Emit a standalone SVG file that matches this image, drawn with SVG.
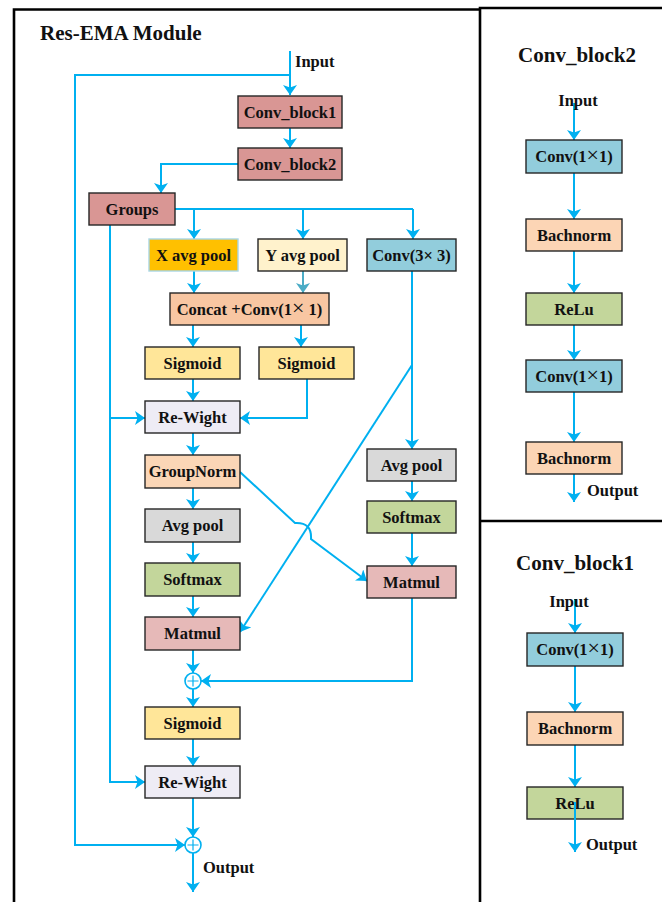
<svg xmlns="http://www.w3.org/2000/svg" width="662" height="902" viewBox="0 0 662 902">
<style>
text{font-family:"Liberation Serif","Times New Roman",serif;font-weight:bold;fill:#111;}
.lbl{font-size:16.5px;text-anchor:middle;}
.ttl{font-size:21px;}
.box{stroke:#262626;stroke-width:1.4;}
.frame{stroke:#000;stroke-width:2.6;fill:none;}
.c{fill:none;stroke:#00b0f0;stroke-width:2;}
.ca{fill:none;stroke:#00b0f0;stroke-width:2;marker-end:url(#ah);}
.sum{fill:#fff;stroke:#00b0f0;stroke-width:1.6;}
.plus{stroke:#00b0f0;stroke-width:1.2;}
.big{font-size:22px;font-weight:normal;}
</style>
<defs>
<marker id="ah" markerUnits="userSpaceOnUse" viewBox="0 -7 10 14" refX="10" refY="0" markerWidth="10" markerHeight="14" orient="auto">
<path d="M0,-7 L10,0 L0,7 L2.5,0 z" fill="#00b0f0"/>
</marker>
<marker id="ah2" markerUnits="userSpaceOnUse" viewBox="0 -7 10 14" refX="10" refY="0" markerWidth="10" markerHeight="14" orient="auto">
<path d="M0,-7 L10,0 L0,7 L2.5,0 z" fill="#4bacc6"/>
</marker>
</defs>
<rect width="662" height="902" fill="#fff"/>
<g id="frames">
<path class="frame" d="M14,902 L14,9.5 L480,9.5"/>
<path class="frame" d="M480,902 L480,8 L662,8"/>
<path class="frame" d="M480,521 L662,521"/>
</g>
<text class="ttl" x="40" y="40">Res-EMA Module</text>
<text class="ttl" x="577" y="62" text-anchor="middle">Conv_block2</text>
<text class="ttl" x="575" y="570" text-anchor="middle">Conv_block1</text>

<g id="connectors">
<path class="ca" d="M290,51 L290,95"/>
<path class="ca" d="M290,75 L75,75 L75,845 L185,845"/>
<path class="ca" d="M290,128 L290,148"/>
<path class="ca" d="M238,164 L161,164 L161,193"/>
<path class="c" d="M175,209 L413,209"/>
<path class="ca" d="M194,209 L194,239"/>
<path class="ca" d="M303,209 L303,239"/>
<path class="ca" d="M413,209 L413,239"/>
<path class="ca" d="M194,271 L194,293"/>
<path d="M303,271 L303,293" fill="none" stroke="#4bacc6" stroke-width="2" marker-end="url(#ah2)"/>
<path class="ca" d="M193,325 L193,347"/>
<path class="ca" d="M301,325 L301,347"/>
<path class="ca" d="M193,379 L193,401"/>
<path class="ca" d="M307,379 L307,418 L240,418"/>
<path class="ca" d="M110,225 L110,782 L145,782"/>
<path class="ca" d="M110,418 L145,418"/>
<path class="ca" d="M193,433 L193,455"/>
<path class="ca" d="M193,488 L193,509"/>
<path class="ca" d="M193,542 L193,563"/>
<path class="ca" d="M193,596 L193,617"/>
<path class="ca" d="M193,650 L193,673"/>
<path class="ca" d="M412,271 L412,449"/>
<path class="ca" d="M412,365 L240,632"/>
<path class="ca" d="M240,472 L295,523 Q312,522 311,539 L367,581"/>
<path class="ca" d="M412,481 L412,501"/>
<path class="ca" d="M412,533 L412,566"/>
<path class="ca" d="M412,598 L412,681 L201,681"/>
<path class="ca" d="M193,689 L193,707"/>
<path class="ca" d="M193,739 L193,766"/>
<path class="ca" d="M193,798 L193,837"/>
<path class="ca" d="M193,853 L193,892"/>
<path class="ca" d="M574,103 L574,140"/>
<path class="ca" d="M574,173 L574,219"/>
<path class="ca" d="M574,251 L574,293"/>
<path class="ca" d="M574,325 L574,360"/>
<path class="ca" d="M574,392 L574,442"/>
<path class="ca" d="M574,474 L574,502"/>
<path class="ca" d="M575,599 L575,633"/>
<path class="ca" d="M575,666 L575,712"/>
<path class="ca" d="M575,745 L575,787"/>
</g>

<text class="lbl" x="295" y="67" style="text-anchor:start">Input</text>
<text class="lbl" x="203" y="873" style="text-anchor:start">Output</text>
<text class="lbl" x="578" y="106">Input</text>
<text class="lbl" x="587" y="496" style="text-anchor:start">Output</text>
<text class="lbl" x="569" y="607">Input</text>
<text class="lbl" x="586" y="850" style="text-anchor:start">Output</text>

<g id="conv_block1"><rect class="box" x="238" y="96" width="104" height="32" fill="#d99694"/><text class="lbl" x="290" y="117.5">Conv_block1</text></g>
<g id="conv_block2"><rect class="box" x="238" y="148" width="104" height="32" fill="#d99694"/><text class="lbl" x="290" y="169.5">Conv_block2</text></g>
<g id="groups"><rect class="box" x="89" y="193" width="86" height="32" fill="#d99694"/><text class="lbl" x="132" y="214.5">Groups</text></g>
<g id="xavg"><rect x="149" y="239" width="89" height="32" fill="#ffc000" stroke="#a9d6e5" stroke-width="1.4"/><text class="lbl" x="193.5" y="260.5">X avg pool</text></g>
<g id="yavg"><rect class="box" x="258" y="239" width="89" height="32" fill="#fff2cc"/><text class="lbl" x="302.5" y="260.5">Y avg pool</text></g>
<g id="conv33"><rect class="box" x="367" y="239" width="89" height="32" fill="#92cddc"/><text class="lbl" x="411.5" y="260.5">Conv(3× 3)</text></g>
<g id="concat"><rect class="box" x="170" y="293" width="159" height="32" fill="#f8c6a2"/><text class="lbl" x="249.5" y="314.5">Concat +Conv(1<tspan class="big">×</tspan> 1)</text></g>
<g id="sigmoid1"><rect class="box" x="145" y="347" width="95" height="32" fill="#ffe699"/><text class="lbl" x="192.5" y="368.5">Sigmoid</text></g>
<g id="sigmoid2"><rect class="box" x="259" y="347" width="95" height="32" fill="#ffe699"/><text class="lbl" x="306.5" y="368.5">Sigmoid</text></g>
<g id="reweight1"><rect class="box" x="145" y="401" width="95" height="32" fill="#eeecf5"/><text class="lbl" x="192.5" y="422.5">Re-Wight</text></g>
<g id="groupnorm"><rect class="box" x="145" y="455" width="95" height="33" fill="#fbd6b6"/><text class="lbl" x="192.5" y="477">GroupNorm</text></g>
<g id="avgpool1"><rect class="box" x="145" y="509" width="95" height="33" fill="#d9d9d9"/><text class="lbl" x="192.5" y="531">Avg pool</text></g>
<g id="softmax1"><rect class="box" x="145" y="563" width="95" height="33" fill="#c3d69b"/><text class="lbl" x="192.5" y="585">Softmax</text></g>
<g id="matmul1"><rect class="box" x="145" y="617" width="95" height="33" fill="#e6b9b8"/><text class="lbl" x="192.5" y="639">Matmul</text></g>
<g id="avgpool2"><rect class="box" x="367" y="449" width="89" height="32" fill="#d9d9d9"/><text class="lbl" x="411.5" y="470.5">Avg pool</text></g>
<g id="softmax2"><rect class="box" x="367" y="501" width="89" height="32" fill="#c3d69b"/><text class="lbl" x="411.5" y="522.5">Softmax</text></g>
<g id="matmul2"><rect class="box" x="367" y="566" width="89" height="32" fill="#e6b9b8"/><text class="lbl" x="411.5" y="587.5">Matmul</text></g>
<g id="sum1"><circle class="sum" cx="193" cy="681" r="8"/><path class="plus" d="M187.5,681 H198.5 M193,675.5 V686.5"/></g>
<g id="sigmoid3"><rect class="box" x="145" y="707" width="95" height="32" fill="#ffe699"/><text class="lbl" x="192.5" y="728.5">Sigmoid</text></g>
<g id="reweight2"><rect class="box" x="145" y="766" width="95" height="32" fill="#eeecf5"/><text class="lbl" x="192.5" y="787.5">Re-Wight</text></g>
<g id="sum2"><circle class="sum" cx="193" cy="845" r="8"/><path class="plus" d="M187.5,845 H198.5 M193,839.5 V850.5"/></g>

<g id="cb2_conv1"><rect class="box" x="526" y="140" width="96" height="33" fill="#92cddc"/><text class="lbl" x="574" y="162">Conv(1<tspan class="big">×</tspan>1)</text></g>
<g id="cb2_bn1"><rect class="box" x="526" y="219" width="96" height="32" fill="#fcd5b5"/><text class="lbl" x="574" y="240.5">Bachnorm</text></g>
<g id="cb2_relu"><rect class="box" x="526" y="293" width="96" height="32" fill="#c3d69b"/><text class="lbl" x="574" y="314.5">ReLu</text></g>
<g id="cb2_conv2"><rect class="box" x="526" y="360" width="96" height="32" fill="#92cddc"/><text class="lbl" x="574" y="381.5">Conv(1<tspan class="big">×</tspan>1)</text></g>
<g id="cb2_bn2"><rect class="box" x="526" y="442" width="96" height="32" fill="#fcd5b5"/><text class="lbl" x="574" y="463.5">Bachnorm</text></g>

<g id="cb1_conv"><rect class="box" x="527" y="633" width="96" height="33" fill="#92cddc"/><text class="lbl" x="575" y="655">Conv(1<tspan class="big">×</tspan>1)</text></g>
<g id="cb1_bn"><rect class="box" x="527" y="712" width="96" height="33" fill="#fcd5b5"/><text class="lbl" x="575" y="734">Bachnorm</text></g>
<g id="cb1_relu"><rect class="box" x="527" y="787" width="96" height="32" fill="#c3d69b"/><text class="lbl" x="575" y="808.5">ReLu</text></g>
<path class="ca" d="M575,802 L575,852"/>
</svg>
